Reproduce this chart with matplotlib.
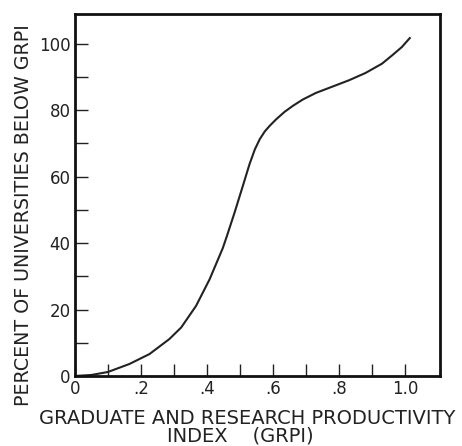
import numpy as np
import matplotlib.pyplot as plt

# GRPI curve, values
grpi = [0.0, 0.05, 0.10, 0.165, 0.226, 0.286, 0.322, 0.367, 0.408, 0.448,
        0.461, 0.483, 0.508, 0.529, 0.545, 0.56, 0.575, 0.59, 0.61, 0.635,
        0.66, 0.69, 0.73, 0.78, 0.83, 0.88, 0.93, 0.963, 0.99, 1.014]
percent = [0.0, 0.3, 1.2, 3.6, 6.6, 11.1, 14.6, 21.1, 29.1, 38.5,
           42.3, 49.0, 57.0, 63.8, 68.2, 71.3, 73.6, 75.3, 77.3, 79.5,
           81.3, 83.2, 85.2, 87.1, 89.0, 91.2, 94.0, 96.7, 99.0, 101.7]

xticks = [0, 0.1, 0.2, 0.3, 0.4, 0.5, 0.6, 0.7, 0.8, 0.9, 1.0]
xticklabels = ['0', '', '.2', '', '.4', '', '.6', '', '.8', '', '1.0']
yticks = [0, 10, 20, 30, 40, 50, 60, 70, 80, 90, 100]
yticklabels = ['0', '', '20', '', '40', '', '60', '', '80', '', '100']

plt.rcParams['font.family'] = ['DejaVu Sans']
ink = '#222222'

fig = plt.figure(figsize=(4.62, 4.46), dpi=100)
ax = fig.add_axes([0.162, 0.157, 0.79, 0.812])

ax.plot(grpi, percent, color=ink, lw=1.5)

ax.set_xlim(0, 1.105)
ax.set_ylim(0, 109)
ax.set_xticks(xticks)
ax.set_xticklabels(xticklabels, fontsize=12, color=ink)
ax.set_yticks(yticks)
ax.set_yticklabels(yticklabels, fontsize=12, color=ink)
ax.tick_params(direction='in', length=9, width=1, color=ink, pad=3)
for s in ax.spines.values():
    s.set_linewidth(2)
    s.set_color('#111111')

# axis titles
fig.text(247 / 462, 1 - 418 / 446, 'GRADUATE AND RESEARCH PRODUCTIVITY',
         fontsize=14, ha='center', va='center', color=ink)
fig.text(240 / 462, 1 - 436 / 446, 'INDEX    (GRPI)',
         fontsize=14, ha='center', va='center', color=ink)
fig.text(24 / 462, 1 - 215 / 446, 'PERCENT OF UNIVERSITIES BELOW GRPI',
         fontsize=13.7, rotation=90, ha='center', va='center', color=ink)

fig.savefig('out.png', dpi=100)
